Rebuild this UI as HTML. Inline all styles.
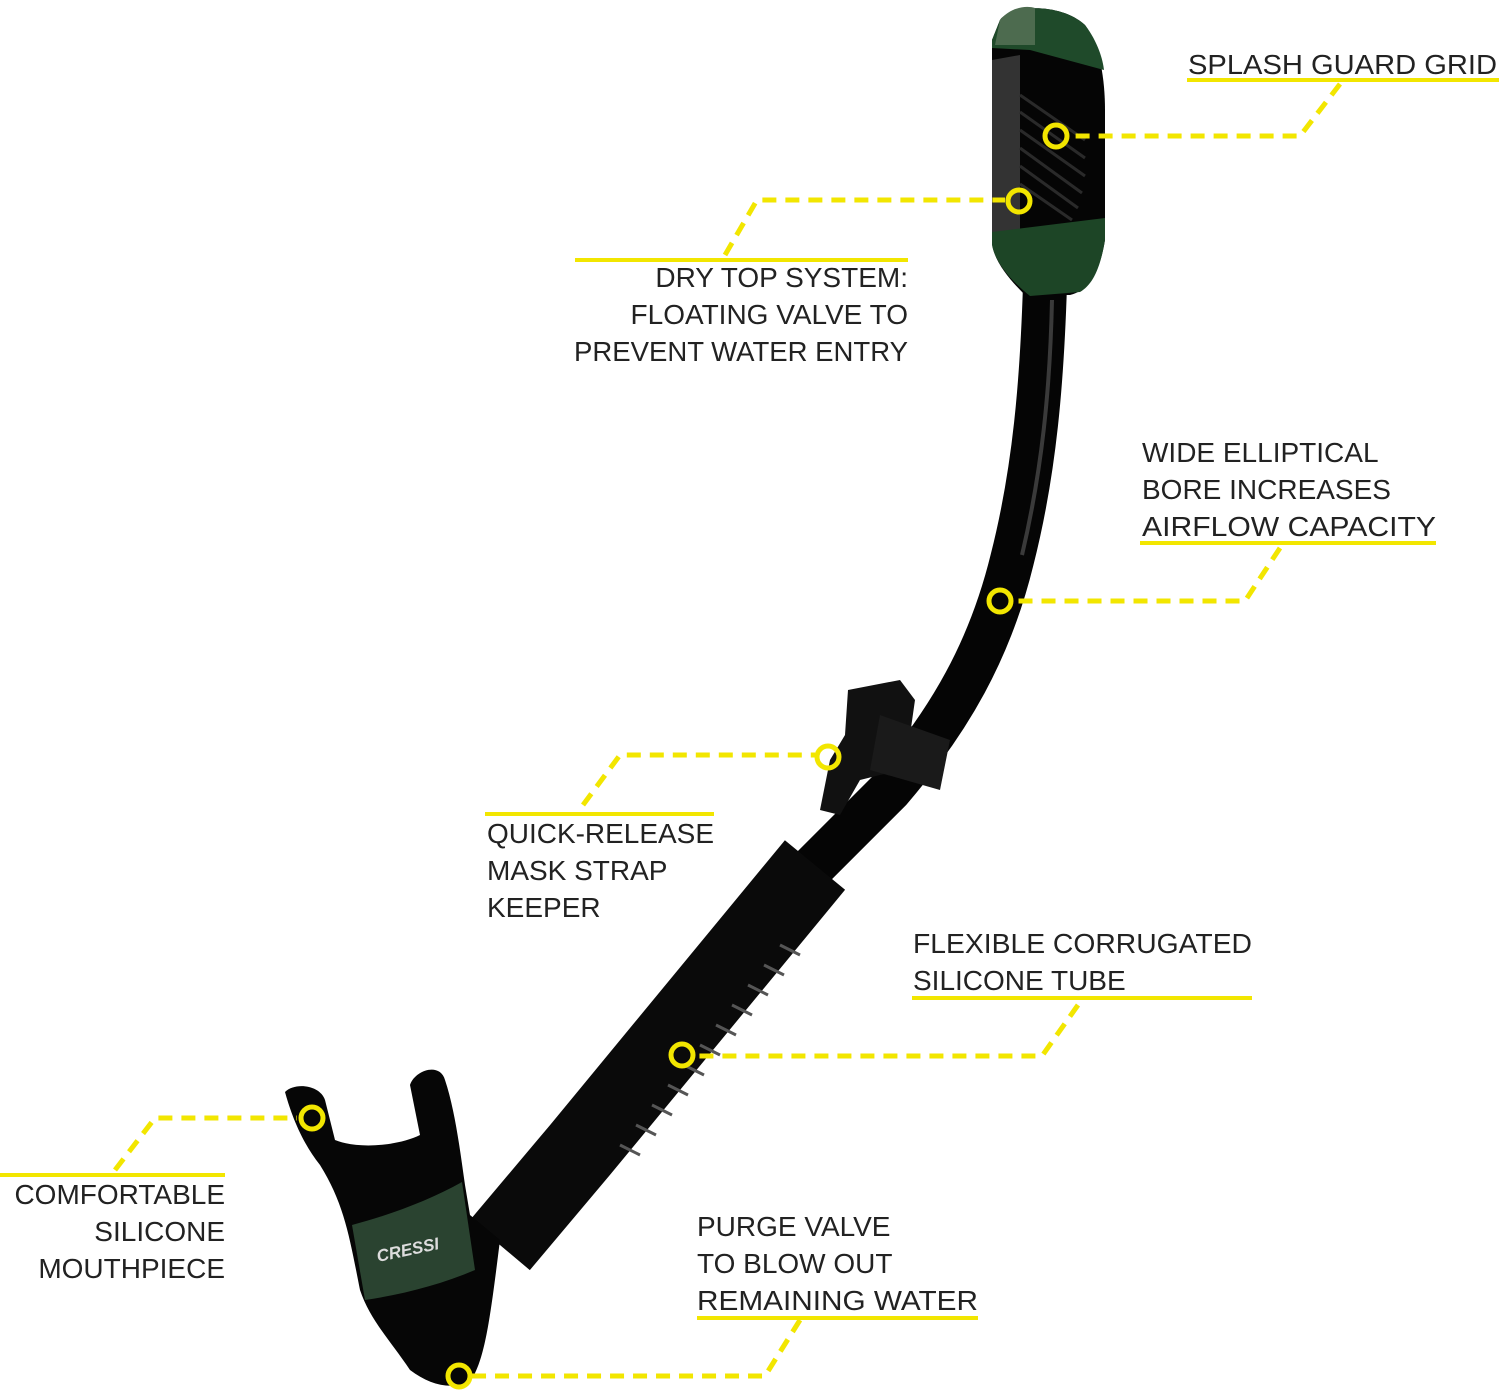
<!DOCTYPE html>
<html><head><meta charset="utf-8"><style>
html,body{margin:0;padding:0;background:#fff;width:1500px;height:1392px;overflow:hidden}
svg{display:block}
text{font-family:"Liberation Sans",sans-serif;font-size:28px;fill:#222;font-weight:normal}
</style></head><body>
<svg width="1500" height="1392" viewBox="0 0 1500 1392" xmlns="http://www.w3.org/2000/svg">
<!-- upper tube -->
<path d="M1045,285 C1042,380 1035,470 1012,560 C990,650 950,720 890,790 L800,880" fill="none" stroke="#050505" stroke-width="44"/>
<path d="M1052,300 C1050,390 1042,470 1022,555" fill="none" stroke="#3a3a3a" stroke-width="4"/>
<!-- corrugated lower tube -->
<path d="M815,865 L580,1150 L500,1245" fill="none" stroke="#0a0a0a" stroke-width="78"/>
<g stroke="#555" stroke-width="3">
<line x1="780" y1="945" x2="800" y2="955"/><line x1="764" y1="965" x2="784" y2="975"/><line x1="748" y1="985" x2="768" y2="995"/><line x1="732" y1="1005" x2="752" y2="1015"/><line x1="716" y1="1025" x2="736" y2="1035"/><line x1="700" y1="1045" x2="720" y2="1055"/><line x1="684" y1="1065" x2="704" y2="1075"/><line x1="668" y1="1085" x2="688" y2="1095"/><line x1="652" y1="1105" x2="672" y2="1115"/><line x1="636" y1="1125" x2="656" y2="1135"/><line x1="620" y1="1145" x2="640" y2="1155"/>
</g>
<!-- clip -->
<path d="M848,690 L900,680 L915,700 L905,770 L880,775 L860,780 L840,815 L820,810 L830,760 L845,735 Z" fill="#111"/>
<path d="M880,715 L950,740 L940,790 L870,770 Z" fill="#1a1a1a"/>
<!-- head -->
<path d="M1000,20 C1010,5 1060,2 1085,25 C1100,45 1105,80 1105,110 L1105,240 C1100,270 1090,290 1070,295 L1025,295 C1010,280 992,260 992,240 L992,40 Z" fill="#050505"/>
<path d="M992,60 L1020,55 L1020,230 L992,235 Z" fill="#333"/>
<path d="M1000,20 C1010,5 1060,2 1085,25 C1098,42 1103,60 1104,70 L1030,50 L992,48 L992,40 Z" fill="#1f4a2a"/>
<path d="M1000,20 C1010,8 1025,5 1035,8 L1035,45 L995,45 Z" fill="#4d6b4f"/>
<path d="M992,232 L1105,218 L1105,240 C1100,270 1092,285 1080,292 L1030,296 C1010,280 995,262 992,245 Z" fill="#1d4526"/>
<g stroke="#2a2a2a" stroke-width="3">
<line x1="1020" y1="95" x2="1085" y2="140"/><line x1="1020" y1="112" x2="1085" y2="158"/><line x1="1020" y1="130" x2="1085" y2="176"/><line x1="1020" y1="148" x2="1082" y2="193"/><line x1="1020" y1="166" x2="1078" y2="208"/><line x1="1020" y1="184" x2="1072" y2="220"/>
</g>
<!-- mouthpiece -->
<path d="M285,1092 C295,1082 320,1085 325,1100 L335,1140 C360,1150 400,1145 420,1135 L410,1085 C415,1070 440,1062 445,1080 C455,1110 460,1150 465,1185 L470,1215 L500,1240 C490,1320 485,1360 470,1382 C450,1390 430,1385 410,1370 C390,1340 370,1320 360,1290 C350,1240 345,1205 320,1165 C300,1140 290,1110 285,1092 Z" fill="#060606"/>
<path d="M352,1225 C390,1215 430,1200 462,1182 L475,1270 C440,1285 400,1295 365,1300 Z" fill="#2a4330"/>
<text x="378" y="1262" style="font-size:17px;font-weight:bold;fill:#ddd;font-style:italic" transform="rotate(-12 378 1262)">CRESSI</text>

<!-- connectors -->
<g fill="none" stroke="#f2e600" stroke-width="5" stroke-dasharray="14 9">
<path d="M1340,84 L1300,136 L1070,136"/>
<path d="M725,255 L757,200 L1005,200"/>
<path d="M1280,548 L1245,601 L1015,601"/>
<path d="M583,805 L620,755 L815,755"/>
<path d="M1078,1005 L1042,1056 L695,1056"/>
<path d="M115,1170 L155,1118 L297,1118"/>
<path d="M800,1320 L765,1376 L472,1376"/>
</g>
<g fill="none" stroke="#f2e600" stroke-width="5">
<circle cx="1056" cy="136" r="11"/><circle cx="1019" cy="201" r="11"/><circle cx="1000" cy="601" r="11"/>
<circle cx="828" cy="757" r="11"/><circle cx="682" cy="1055" r="11"/><circle cx="312" cy="1118" r="11"/><circle cx="459" cy="1376" r="11"/>
</g>
<!-- underlines -->
<g stroke="#f2e600" stroke-width="4">
<line x1="1187" y1="80" x2="1499" y2="80"/>
<line x1="575" y1="260" x2="908" y2="260"/>
<line x1="1140" y1="543" x2="1436" y2="543"/>
<line x1="485" y1="814" x2="714" y2="814"/>
<line x1="912" y1="998" x2="1252" y2="998"/>
<line x1="0" y1="1175" x2="225" y2="1175"/>
<line x1="697" y1="1318" x2="978" y2="1318"/>
</g>
<!-- labels -->
<text x="1188" y="74" textLength="309" lengthAdjust="spacingAndGlyphs">SPLASH GUARD GRID</text>
<text x="908" y="287" text-anchor="end">DRY TOP SYSTEM:</text>
<text x="908" y="324" text-anchor="end">FLOATING VALVE TO</text>
<text x="574" y="361" textLength="334" lengthAdjust="spacingAndGlyphs">PREVENT WATER ENTRY</text>
<text x="1142" y="462">WIDE ELLIPTICAL</text>
<text x="1142" y="499">BORE INCREASES</text>
<text x="1142" y="536" textLength="294" lengthAdjust="spacingAndGlyphs">AIRFLOW CAPACITY</text>
<text x="487" y="843" textLength="227" lengthAdjust="spacingAndGlyphs">QUICK-RELEASE</text>
<text x="487" y="880">MASK STRAP</text>
<text x="487" y="917">KEEPER</text>
<text x="913" y="953" textLength="339" lengthAdjust="spacingAndGlyphs">FLEXIBLE CORRUGATED</text>
<text x="913" y="990">SILICONE TUBE</text>
<text x="225" y="1204" text-anchor="end">COMFORTABLE</text>
<text x="225" y="1241" text-anchor="end">SILICONE</text>
<text x="225" y="1278" text-anchor="end">MOUTHPIECE</text>
<text x="697" y="1236">PURGE VALVE</text>
<text x="697" y="1273">TO BLOW OUT</text>
<text x="697" y="1310" textLength="281" lengthAdjust="spacingAndGlyphs">REMAINING WATER</text>
</svg>
</body></html>
